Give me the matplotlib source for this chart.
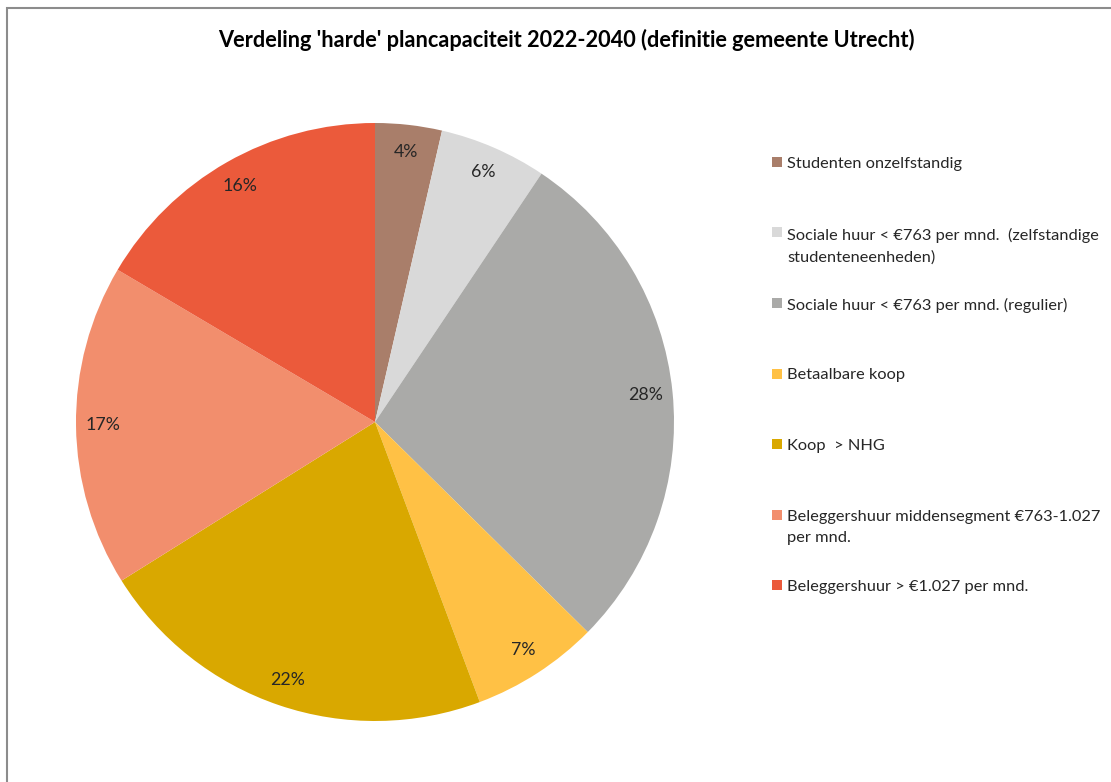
import matplotlib.pyplot as plt
from matplotlib.patches import Rectangle

plt.rcParams['font.family'] = ['Lato', 'DejaVu Sans']

labels = [
    'Studenten onzelfstandig',
    'Sociale huur < €763 per mnd.  (zelfstandige\nstudenteneenheden)',
    'Sociale huur < €763 per mnd. (regulier)',
    'Betaalbare koop',
    'Koop  > NHG',
    'Beleggershuur middensegment €763-1.027\nper mnd.',
    'Beleggershuur > €1.027 per mnd.',
]
shares = [3.6, 5.8, 28.0, 6.9, 21.8, 17.4, 16.5]
colors = ['#A97E6A', '#D9D9D9', '#AAAAA8', '#FFC145', '#D9A800', '#F28E6D', '#EB5A3B']

W, H = 1111, 782
fig = plt.figure(figsize=(W / 100, H / 100), dpi=100)

# frame round the chart (only top and left visible)
fig.patches.append(Rectangle((7 / W, -0.1), 1.2, 1 - 8 / H + 0.1, transform=fig.transFigure,
                             fill=False, edgecolor='#8C8C8C', linewidth=1.5))

ax = fig.add_axes([76 / W, 61 / H, 598 / W, 598 / H])
ax.pie(shares, colors=colors, startangle=90, counterclock=False, radius=1,
       autopct='%1.0f%%', pctdistance=0.91,
       textprops={'fontsize': 12.8, 'color': '#262626'})
ax.set_xlim(-1, 1)
ax.set_ylim(-1, 1)
ax.set_aspect('equal')

fig.text(566 / W, 1 - 40 / H, "Verdeling 'harde' plancapaciteit 2022-2040 (definitie gemeente Utrecht)",
         ha='center', va='center', fontsize=15.7, fontweight='bold', color='black')

# legend, drawn by hand so the square sits at the first line
for i, (lab, col) in enumerate(zip(labels, colors)):
    y = 162 + 70.5 * i
    fig.patches.append(Rectangle((772 / W, 1 - (y + 5) / H), 10 / W, 10 / H,
                                 transform=fig.transFigure, facecolor=col, edgecolor='none'))
    fig.text(787 / W, 1 - (y - 5) / H, lab, ha='left', va='top', fontsize=11.8,
             color='#262626', linespacing=1.65)

fig.savefig('out.png', dpi=100)
